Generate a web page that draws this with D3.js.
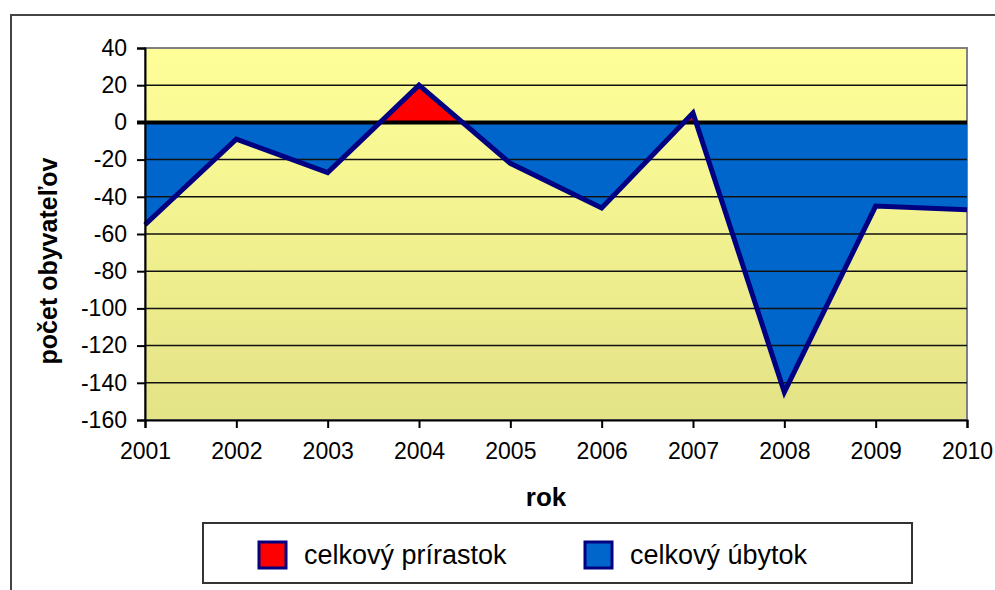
<!DOCTYPE html>
<html>
<head>
<meta charset="utf-8">
<script src="https://cdn.jsdelivr.net/npm/d3@7"></script>
<style>
  html, body { margin: 0; padding: 0; background: #fff; }
  svg { display: block; font-family: "Liberation Sans", Arial, sans-serif; }
</style>
</head>
<body>
<svg id="chart" width="995" height="590"></svg>
<script>
const years = [2001, 2002, 2003, 2004, 2005, 2006, 2007, 2008, 2009, 2010];
const values = [-55, -9, -27, 20, -22, -46, 5, -145, -45, -47];
const yTicks = [40, 20, 0, -20, -40, -60, -80, -100, -120, -140, -160];
const legendLabels = ["celkový prírastok", "celkový úbytok"];
const xTitle = "rok";
const yTitle = "počet obyvateľov";

const svg = d3.select("#chart");
const m = { left: 145, right: 967, top: 48, bottom: 420 };

// outer chart border
svg.append("rect").attr("x", 11).attr("y", 15).attr("width", 1000).attr("height", 600)
  .attr("fill", "#fff").attr("stroke", "#444").attr("stroke-width", 2);

const x = d3.scaleLinear().domain([years[0], years[years.length - 1]]).range([m.left, m.right]);
const y = d3.scaleLinear().domain([-160, 40]).range([m.bottom, m.top]);

const defs = svg.append("defs");
const grad = defs.append("linearGradient").attr("id", "bg").attr("x1", 0).attr("y1", 0).attr("x2", 0).attr("y2", 1);
grad.append("stop").attr("offset", "0%").attr("stop-color", "#FFFF99");
grad.append("stop").attr("offset", "100%").attr("stop-color", "#E3E387");

defs.append("clipPath").attr("id", "above").append("rect")
  .attr("x", m.left).attr("y", m.top).attr("width", m.right - m.left).attr("height", y(0) - m.top);
defs.append("clipPath").attr("id", "below").append("rect")
  .attr("x", m.left).attr("y", y(0)).attr("width", m.right - m.left).attr("height", m.bottom - y(0));

// plot background
svg.append("rect").attr("x", m.left).attr("y", m.top).attr("width", m.right - m.left).attr("height", m.bottom - m.top)
  .attr("fill", "url(#bg)").attr("stroke", "#808080").attr("stroke-width", 2);

const data = years.map((yr, i) => ({ yr, v: values[i] }));
const area = d3.area().x(d => x(d.yr)).y0(y(0)).y1(d => y(d.v));

svg.append("path").datum(data).attr("d", area).attr("fill", "#FF0000").attr("clip-path", "url(#above)");
svg.append("path").datum(data).attr("d", area).attr("fill", "#0066CC").attr("clip-path", "url(#below)");

// gridlines
svg.append("g").selectAll("line").data(yTicks.filter(t => t !== 0 && t !== -160 && t !== 40)).join("line")
  .attr("x1", m.left).attr("x2", m.right).attr("y1", d => y(d)).attr("y2", d => y(d))
  .attr("stroke", "#111").attr("stroke-width", 1.5);
// zero line
svg.append("line").attr("x1", m.left - 8).attr("x2", m.right).attr("y1", y(0)).attr("y2", y(0))
  .attr("stroke", "#000").attr("stroke-width", 4);

// data line
svg.append("path").datum(data)
  .attr("d", d3.line().x(d => x(d.yr)).y(d => y(d.v)))
  .attr("fill", "none").attr("stroke", "#000080").attr("stroke-width", 5).attr("stroke-linejoin", "miter");

// axes
const yAxis = d3.axisLeft(y).tickValues(yTicks).tickSize(8).tickPadding(10).tickFormat(d3.format("d"));
const gy = svg.append("g").attr("transform", `translate(${m.left},0)`).call(yAxis);
gy.select(".domain").attr("stroke", "#000").attr("stroke-width", 2);
gy.selectAll(".tick line").attr("stroke", "#000").attr("stroke-width", 2);
gy.selectAll("text").attr("font-size", 23).attr("font-family", "Liberation Sans, Arial, sans-serif").attr("fill", "#000")
  .text(d => d < 0 ? "-" + Math.abs(d) : d);

const xAxis = d3.axisBottom(x).tickValues(years).tickSize(8).tickPadding(15).tickFormat(d3.format("d"));
const gx = svg.append("g").attr("transform", `translate(0,${m.bottom})`).call(xAxis);
gx.select(".domain").attr("stroke", "#000").attr("stroke-width", 2);
gx.selectAll(".tick line").attr("stroke", "#000").attr("stroke-width", 2);
gx.selectAll("text").attr("font-size", 23).attr("font-family", "Liberation Sans, Arial, sans-serif").attr("fill", "#000");

// titles
svg.append("text").attr("x", 546).attr("y", 506).attr("text-anchor", "middle")
  .attr("font-size", 26).attr("font-weight", "bold").text(xTitle);
svg.append("text").attr("transform", "translate(57,261) rotate(-90)").attr("text-anchor", "middle")
  .attr("font-size", 25).attr("font-weight", "bold").text(yTitle);

// legend
svg.append("rect").attr("x", 203).attr("y", 523).attr("width", 709).attr("height", 60)
  .attr("fill", "#fff").attr("stroke", "#333").attr("stroke-width", 2);
const legColors = ["#FF0000", "#0066CC"];
const legX = [259, 585];
legendLabels.forEach((lab, i) => {
  svg.append("rect").attr("x", legX[i]).attr("y", 542).attr("width", 27).attr("height", 26)
    .attr("fill", legColors[i]).attr("stroke", "#000080").attr("stroke-width", 3);
  svg.append("text").attr("x", legX[i] + 45).attr("y", 564).attr("font-size", 27).text(lab);
});
</script>
</body>
</html>
